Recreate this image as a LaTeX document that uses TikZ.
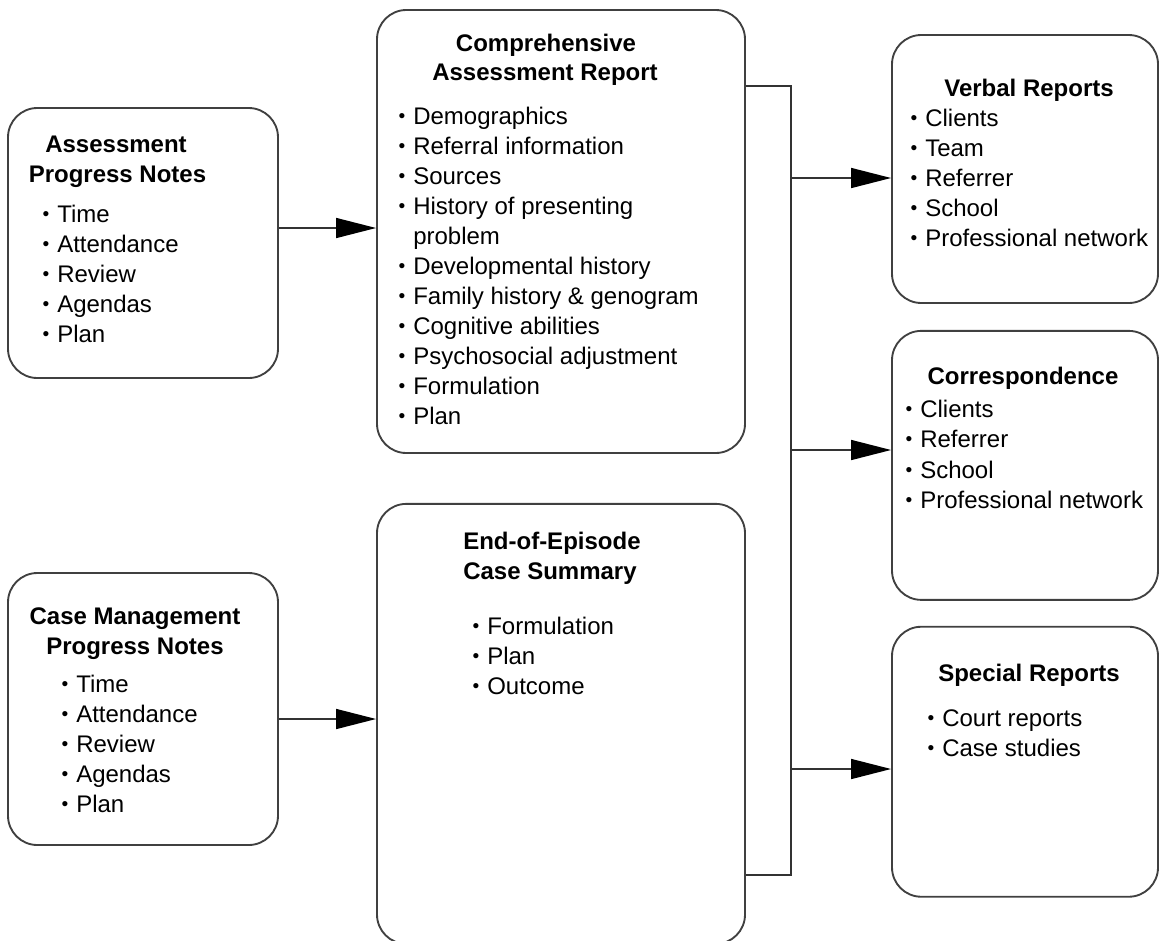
\documentclass[tikz,border=0pt]{standalone}
\usepackage{fontspec}
\setmainfont{Liberation Sans}
\usepackage{tikz}
\usetikzlibrary{positioning, calc, arrows.meta}

\newcommand{\bul}{\makebox[12pt][l]{\hspace{1pt}\raisebox{1.2pt}{\scalebox{0.8}{\textbullet}}}}
\newcommand{\nobul}{\makebox[12pt][l]{}}

\begin{document}
\begin{tikzpicture}[x=0.75pt, y=-0.75pt,
    box/.style={draw=black!75, line width=1.4pt, rounded corners=22pt, inner sep=0pt},
    boxtitle/.style={anchor=base, inner sep=0pt, text=black,
      font=\fontsize{18pt}{22.5pt}\selectfont\bfseries},
    entry/.style={anchor=base west, inner sep=0pt, text=black,
      font=\fontsize{18pt}{22.5pt}\selectfont},
    link/.style={draw=black!80, line width=1.1pt},
    arr/.style={link, -{Triangle[length=30pt, width=15pt, color=black]}}]

        \useasboundingbox (0,0) rectangle (1159,940);

        % 1. Left column: progress notes
        \node[box, minimum width=202.5pt, minimum height=202.5pt] (apn) at (143,243) {};
        \node[boxtitle] (apn-t1) at (116,152) {Assessment};
        \node[boxtitle] (apn-t2) at (117.5,182) {Progress Notes};
        \foreach \txt [count=\k from 0] in {Time, Attendance, Review, Agendas, Plan}
          \node[entry] (apn-\k) at (41,{222+30*\k}) {\bul\txt};

        \node[box, minimum width=202.5pt, minimum height=204pt] (cmpn) at (143,709) {};
        \node[boxtitle] (cmpn-t1) at (135,624) {Case Management};
        \node[boxtitle] (cmpn-t2) at (135,654) {Progress Notes};
        \foreach \txt [count=\k from 0] in {Time, Attendance, Review, Agendas, Plan}
          \node[entry] (cmpn-\k) at (60,{692+30*\k}) {\bul\txt};

        % 2. Middle column: assessment report and case summary
        \node[box, minimum width=276pt, minimum height=332.25pt] (car) at (561,231.5) {};
        \node[boxtitle] (car-t1) at (546,51) {Comprehensive};
        \node[boxtitle] (car-t2) at (545,80) {Assessment Report};
        \foreach \txt [count=\k from 0] in {\bul Demographics, \bul Referral information,
            \bul Sources, \bul History of presenting, \nobul problem,
            \bul Developmental history, \bul Family history \& genogram,
            \bul Cognitive abilities, \bul Psychosocial adjustment,
            \bul Formulation, \bul Plan}
          \node[entry] (car-\k) at (397,{124+30*\k}) {\txt};

        \node[box, minimum width=276pt, minimum height=330pt, below=36.75pt of car] (eoe) {};
        \node[boxtitle, anchor=base west] (eoe-t1) at (463,549) {End-of-Episode};
        \node[boxtitle, anchor=base west] (eoe-t2) at (463,579) {Case Summary};
        \foreach \txt [count=\k from 0] in {Formulation, Plan, Outcome}
          \node[entry] (eoe-\k) at (471,{634+30*\k}) {\bul\txt};

        % 3. Right column: outputs
        \node[box, minimum width=199.5pt, minimum height=201pt] (verbal) at (1025,169) {};
        \node[boxtitle] (verbal-t) at (1029,96) {Verbal Reports};
        \foreach \txt [count=\k from 0] in {Clients, Team, Referrer, School, Professional network}
          \node[entry] (verbal-\k) at (909,{126+30*\k}) {\bul\txt};

        \node[box, minimum width=199.5pt, minimum height=201.75pt, below=19.5pt of verbal] (corr) {};
        \node[boxtitle] (corr-t) at (1023,384) {Correspondence};
        \foreach \txt [count=\k from 0] in {Clients, Referrer, School, Professional network}
          \node[entry] (corr-\k) at (904,{417+30.5*\k}) {\bul\txt};

        \node[box, minimum width=199.5pt, minimum height=202.5pt, below=18.75pt of corr] (special) {};
        \node[boxtitle] (special-t) at (1029,681) {Special Reports};
        \foreach \txt [count=\k from 0] in {Court reports, Case studies}
          \node[entry] (special-\k) at (926,{726+30*\k}) {\bul\txt};

        % 4. Inputs into the middle column
        \coordinate (in-a) at (278,228);
        \coordinate (in-c) at (278,719);
        \draw[arr] (in-a -| apn.east) -- (in-a -| car.west);
        \draw[arr] (in-c -| cmpn.east) -- (in-c -| eoe.west);

        % 5. Collecting line and the three outputs
        \coordinate (bus-top) at (791,86);
        \coordinate (bus-bot) at (791,875);
        \draw[link] (bus-top -| car.east) -- (bus-top) -- (bus-bot) -- (bus-bot -| eoe.east);
        \coordinate (tap-v) at (791,178);
        \coordinate (tap-c) at (791,450);
        \coordinate (tap-s) at (791,769);
        \draw[arr] (tap-v) -- (tap-v -| verbal.west);
        \draw[arr] (tap-c) -- (tap-c -| corr.west);
        \draw[arr] (tap-s) -- (tap-s -| special.west);

    \end{tikzpicture}
\end{document}
